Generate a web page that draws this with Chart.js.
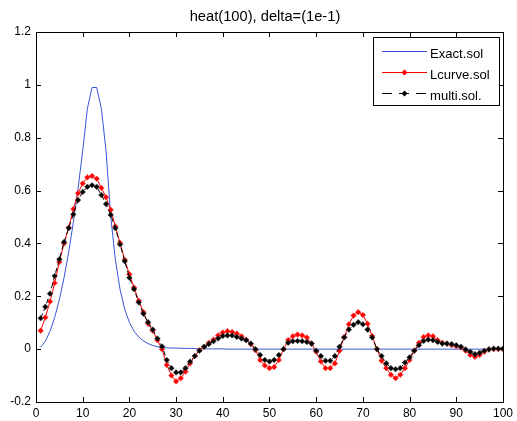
<!DOCTYPE html>
<html lang="en">
<head>
    <meta charset="UTF-8">
    <title>heat(100), delta=(1e-1)</title>
    <script src="https://cdn.jsdelivr.net/npm/chart.js"></script>
    <style>
        html, body { margin: 0; padding: 0; background: #fff; }
        #wrap { width: 517px; height: 421px; }
    </style>
</head>
<body>
    <div id="wrap"><canvas id="heatChart" width="517" height="421"></canvas></div>

    <script>
        const titleText = "heat(100), delta=(1e-1)";
        const xTicks = [0, 10, 20, 30, 40, 50, 60, 70, 80, 90, 100];
        const yTicks = [-0.2, 0, 0.2, 0.4, 0.6, 0.8, 1, 1.2];
        const xIndex = Array.from({ length: 100 }, (_, i) => i + 1);

        const exactSol = [
            0.0075, 0.03, 0.0675, 0.12, 0.1875, 0.27, 0.3675, 0.48, 0.6075, 0.75,
            0.91, 0.99, 0.99, 0.91, 0.75, 0.503, 0.337, 0.226, 0.151, 0.101,
            0.068, 0.046, 0.031, 0.021, 0.014, 0.009, 0.006, 0.005, 0.004, 0.004,
            0.003, 0.003, 0.003, 0.002, 0.002, 0.001, 0.001, 0.001, 0.001, 0.001,
            0, 0, 0, 0, 0, 0, 0, 0, 0, 0,
            0, 0, 0, 0, 0, 0, 0, 0, 0, 0,
            0, 0, 0, 0, 0, 0, 0, 0, 0, 0,
            0, 0, 0, 0, 0, 0, 0, 0, 0, 0,
            0, 0, 0, 0, 0, 0, 0, 0, 0, 0,
            0, 0, 0, 0, 0, 0, 0, 0, 0, 0
        ];

        const lcurveSol = [
            0.07, 0.12, 0.18, 0.25, 0.33, 0.40, 0.46, 0.53, 0.59, 0.627,
            0.65, 0.655, 0.645, 0.61, 0.575, 0.527, 0.464, 0.402, 0.338, 0.283,
            0.233, 0.183, 0.14, 0.096, 0.07, 0.034, 0.0, -0.06, -0.1, -0.122,
            -0.11, -0.085, -0.054, -0.026, -0.004, 0.009, 0.024, 0.036, 0.052, 0.063,
            0.068, 0.065, 0.059, 0.049, 0.036, 0.019, -0.004, -0.041, -0.062, -0.072,
            -0.068, -0.041, 0.0, 0.034, 0.049, 0.055, 0.052, 0.044, 0.021, -0.01,
            -0.047, -0.072, -0.072, -0.054, -0.006, 0.046, 0.094, 0.127, 0.14, 0.129,
            0.096, 0.05, 0.0, -0.044, -0.072, -0.097, -0.11, -0.097, -0.072, -0.041,
            -0.006, 0.024, 0.046, 0.052, 0.049, 0.034, 0.024, 0.021, 0.015, 0.011,
            0.006, -0.006, -0.022, -0.029, -0.022, -0.01, -0.001, 0.0, 0.0, 0.0
        ];

        const multiSol = [
            0.117, 0.16, 0.21, 0.277, 0.34, 0.405, 0.458, 0.51, 0.564, 0.595,
            0.614, 0.62, 0.614, 0.583, 0.549, 0.508, 0.458, 0.396, 0.333, 0.27,
            0.227, 0.177, 0.134, 0.102, 0.074, 0.04, 0.01, -0.041, -0.072, -0.088,
            -0.088, -0.072, -0.047, -0.026, -0.006, 0.009, 0.019, 0.03, 0.04, 0.05,
            0.052, 0.052, 0.046, 0.04, 0.034, 0.021, 0.0, -0.022, -0.041, -0.047,
            -0.041, -0.022, 0.0, 0.024, 0.03, 0.031, 0.03, 0.027, 0.021, -0.006,
            -0.026, -0.044, -0.044, -0.026, 0.009, 0.044, 0.074, 0.092, 0.102, 0.094,
            0.074, 0.044, 0.0, -0.026, -0.054, -0.072, -0.076, -0.072, -0.051, -0.031,
            -0.006, 0.015, 0.031, 0.036, 0.034, 0.027, 0.021, 0.021, 0.019, 0.015,
            0.009, -0.001, -0.01, -0.019, -0.014, -0.006, -0.001, 0.002, 0.002, 0.002
        ];

        const seriesNames = ["Exact.sol", "Lcurve.sol", "multi.sol."];
        const blue = "rgb(55, 85, 215)";
        const red = "rgb(255, 0, 0)";
        const black = "rgb(0, 0, 0)";
        const font = "'Liberation Sans', Arial, sans-serif";

        function toPoints(values) {
            return values.map((v, i) => ({ x: xIndex[i], y: v }));
        }

        function fmtTick(v) {
            return String(Number(v.toFixed(1)));
        }

        // matlab style box: border, inward ticks on all sides, title, legend
        const matlabFrame = {
            id: "matlabFrame",
            afterDraw(chart) {
                const ctx = chart.ctx;
                const area = chart.chartArea;
                const xs = chart.scales.x, ys = chart.scales.y;
                const tl = 5;
                ctx.save();
                ctx.strokeStyle = "#000";
                ctx.lineWidth = 1;
                ctx.beginPath();
                xTicks.forEach(t => {
                    const px = Math.round(xs.getPixelForValue(t)) + 0.5;
                    ctx.moveTo(px, area.bottom); ctx.lineTo(px, area.bottom - tl);
                    ctx.moveTo(px, area.top); ctx.lineTo(px, area.top + tl);
                });
                yTicks.forEach(t => {
                    const py = Math.round(ys.getPixelForValue(t)) + 0.5;
                    ctx.moveTo(area.left, py); ctx.lineTo(area.left + tl, py);
                    ctx.moveTo(area.right, py); ctx.lineTo(area.right - tl, py);
                });
                ctx.stroke();
                ctx.strokeRect(Math.round(area.left) + 0.5, Math.round(area.top) + 0.5,
                    Math.round(area.right - area.left), Math.round(area.bottom - area.top));

                // title, stretched to the reference width
                ctx.fillStyle = "#000";
                ctx.font = "13px " + font;
                let w = ctx.measureText(titleText).width;
                ctx.font = (13 * 151 / w).toFixed(1) + "px " + font;
                ctx.textAlign = "center";
                ctx.textBaseline = "alphabetic";
                ctx.fillText(titleText, 265, 21);

                // legend
                const lx = 373, ly = 37, lw = 126, lh = 68;
                ctx.fillStyle = "#fff";
                ctx.fillRect(lx, ly, lw, lh);
                ctx.strokeRect(lx + 0.5, ly + 0.5, lw, lh);
                ctx.font = "13px " + font;
                w = ctx.measureText(seriesNames[0]).width;
                ctx.font = (13 * 53 / w).toFixed(1) + "px " + font;
                const rows = [51, 72, 93];
                chart.data.datasets.forEach((ds, i) => {
                    const y = rows[i] + 0.5;
                    ctx.strokeStyle = ds.borderColor;
                    ctx.setLineDash(ds.borderDash ? [10, 7] : []);
                    ctx.beginPath();
                    ctx.moveTo(382, y); ctx.lineTo(427, y);
                    ctx.stroke();
                    ctx.setLineDash([]);
                    if (ds.pointRadius > 0) {
                        ctx.fillStyle = ds.pointBackgroundColor;
                        ctx.beginPath();
                        ctx.moveTo(404.5, y - 3); ctx.lineTo(407.5, y);
                        ctx.lineTo(404.5, y + 3); ctx.lineTo(401.5, y);
                        ctx.closePath();
                        ctx.fill();
                    }
                    ctx.fillStyle = "#000";
                    ctx.textAlign = "left";
                    ctx.fillText(ds.label, 430, y + 6);
                });
                ctx.restore();
            }
        };

        const ctx = document.getElementById("heatChart").getContext("2d");
        new Chart(ctx, {
            type: "line",
            data: {
                datasets: [
                    {
                        label: seriesNames[0],
                        data: toPoints(exactSol),
                        borderColor: blue,
                        borderWidth: 1,
                        pointRadius: 0,
                        order: 3
                    },
                    {
                        label: seriesNames[1],
                        data: toPoints(lcurveSol),
                        borderColor: red,
                        borderWidth: 1,
                        pointStyle: "rectRot",
                        pointRadius: 2.8,
                        pointBackgroundColor: red,
                        pointBorderColor: "rgba(255,70,70,0.6)",
                        pointBorderWidth: 1,
                        order: 2
                    },
                    {
                        label: seriesNames[2],
                        data: toPoints(multiSol),
                        borderColor: black,
                        borderWidth: 1,
                        borderDash: [5, 3],
                        pointStyle: "rectRot",
                        pointRadius: 2.8,
                        pointBackgroundColor: black,
                        pointBorderColor: "rgba(70,70,70,0.6)",
                        pointBorderWidth: 1,
                        order: 1
                    }
                ]
            },
            options: {
                responsive: false,
                animation: false,
                layout: { padding: { left: 0, right: 11, top: 32, bottom: 0 } },
                plugins: {
                    legend: { display: false },
                    title: { display: false },
                    tooltip: { enabled: false }
                },
                elements: { line: { tension: 0 } },
                scales: {
                    x: {
                        type: "linear",
                        min: 0, max: 100,
                        grid: { display: false, drawTicks: false, tickLength: 0 },
                        border: { display: false },
                        afterFit: s => { s.height = 19; },
                        afterBuildTicks: s => { s.ticks = xTicks.map(v => ({ value: v })); },
                        ticks: {
                            autoSkip: false, maxRotation: 0, padding: 4,
                            color: "#000", font: { family: font, size: 12 },
                            callback: v => fmtTick(v)
                        }
                    },
                    y: {
                        type: "linear",
                        min: -0.2, max: 1.2,
                        grid: { display: false, drawTicks: false, tickLength: 0 },
                        border: { display: false },
                        afterFit: s => { s.width = 36; },
                        afterBuildTicks: s => { s.ticks = yTicks.map(v => ({ value: v })); },
                        ticks: {
                            autoSkip: false, padding: 5,
                            color: "#000", font: { family: font, size: 12 },
                            callback: v => fmtTick(v)
                        }
                    }
                }
            },
            plugins: [matlabFrame]
        });
    </script>
</body>
</html>
